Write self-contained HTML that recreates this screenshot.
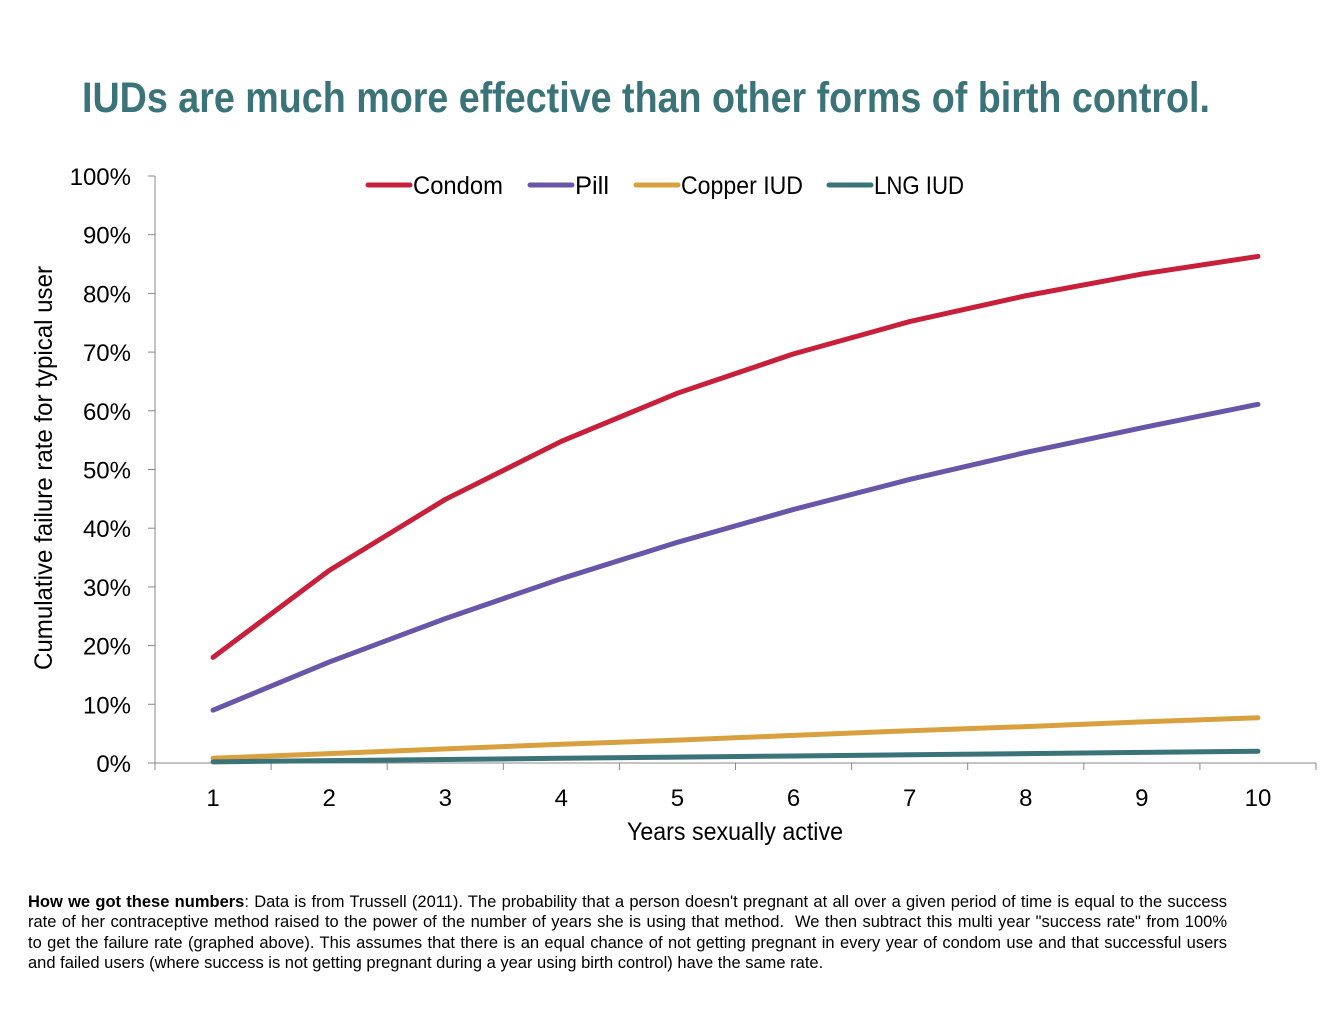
<!DOCTYPE html>
<html><head><meta charset="utf-8"><style>
body{margin:0;background:#fff;width:1324px;height:1035px;overflow:hidden;font-family:"Liberation Sans",sans-serif}
#note{position:absolute;left:28px;top:892px;width:1199px;font-size:16.5px;line-height:20.3px;color:#000}
#note div{text-align:justify;text-align-last:justify;white-space:nowrap}
#note div.last{text-align-last:left}
</style></head><body>
<svg id="chart" width="1324" height="890" style="position:absolute;left:0;top:0" font-family="Liberation Sans, sans-serif">
<text x="82" y="112" font-size="43" font-weight="bold" fill="#3a7479" textLength="1128" lengthAdjust="spacingAndGlyphs">IUDs are much more effective than other forms of birth control.</text>
<g id="axes"></g><g id="lines"></g>
<text x="735" y="840" font-size="25" text-anchor="middle" textLength="216" lengthAdjust="spacingAndGlyphs">Years sexually active</text>
<text transform="translate(52,468) rotate(-90)" font-size="25" text-anchor="middle" textLength="404" lengthAdjust="spacingAndGlyphs">Cumulative failure rate for typical user</text>
<g id="legend"></g>
</svg>
<div id="note">
<div><b>How we got these numbers</b>: Data is from Trussell (2011). The probability that a person doesn't pregnant at all over a given period of time is equal to the success</div>
<div>rate of her contraceptive method raised to the power of the number of years she is using that method.&nbsp; We then subtract this multi year "success rate" from 100%</div>
<div>to get the failure rate (graphed above). This assumes that there is an equal chance of not getting pregnant in every year of condom use and that successful users</div>
<div class="last">and failed users (where success is not getting pregnant during a year using birth control) have the same rate.</div>
</div>
<script>
const years=[1,2,3,4,5,6,7,8,9,10];
const condom=[18,32.8,44.9,54.8,63,69.7,75.2,79.6,83.3,86.3];
const pill=[9,17.2,24.6,31.4,37.6,43.2,48.3,52.9,57.1,61.1];
const copper=[0.8,1.6,2.4,3.2,3.9,4.7,5.5,6.2,7.0,7.7];
const lng=[0.2,0.4,0.6,0.8,1.0,1.2,1.4,1.6,1.8,2.0];
const yTicks=[0,10,20,30,40,50,60,70,80,90,100];
const seriesNames=['Condom','Pill','Copper IUD','LNG IUD'];
const colors=['#c8203a','#6a56a8','#d9a040','#3a7479'];
const NS='http://www.w3.org/2000/svg';
const x0=155,x1=1316,yb=763,yt=176;
const step=(x1-x0)/years.length;
const X=i=>x0+step*(i+0.5);
const Y=v=>yb-(v/100)*(yb-yt);
function mk(t,a,p){const e=document.createElementNS(NS,t);for(const k in a)e.setAttribute(k,a[k]);p.appendChild(e);return e;}
const ax=document.getElementById('axes');
const ya=mk('line',{x1:x0,y1:yt,x2:x0,y2:yb,stroke:'#888','stroke-width':1},ax);


const xa=mk('line',{x1:x0,y1:yb,x2:x1,y2:yb,stroke:'#888','stroke-width':1},ax);


yTicks.forEach(v=>{
 mk('line',{x1:x0-7,y1:Y(v),x2:x0,y2:Y(v),stroke:'#888'},ax);
 const t=mk('text',{x:131,y:Y(v)+9,'font-size':24,'text-anchor':'end'},ax);
 
 
 t.textContent=v+'%';
});
for(let k=0;k<=years.length;k++)mk('line',{x1:x0+step*k,y1:yb,x2:x0+step*k,y2:yb+7,stroke:'#888'},ax);
years.forEach((y,i)=>{
 const t=mk('text',{x:X(i),y:806,'font-size':24,'text-anchor':'middle'},ax);
 
 
 t.textContent=y;
});
const lg=document.getElementById('lines');
[condom,pill,copper,lng].forEach((s,j)=>{
 const p=mk('polyline',{points:s.map((v,i)=>X(i)+','+Y(v)).join(' '),fill:'none',stroke:colors[j],'stroke-width':5,'stroke-linejoin':'round','stroke-linecap':'round'},lg);
 
 
});
const leg=document.getElementById('legend');
const lx=[368,530,636,829],lw=[90,34,122,90];
seriesNames.forEach((n,j)=>{
 const g=mk('g',{},leg);
 
 
 mk('line',{x1:lx[j],y1:185,x2:lx[j]+42,y2:185,stroke:colors[j],'stroke-width':5,'stroke-linecap':'round'},g);
 const t=mk('text',{x:lx[j]+45,y:194,'font-size':25,textLength:lw[j],lengthAdjust:'spacingAndGlyphs'},g);
 t.textContent=n;
});
</script>
</body></html>
